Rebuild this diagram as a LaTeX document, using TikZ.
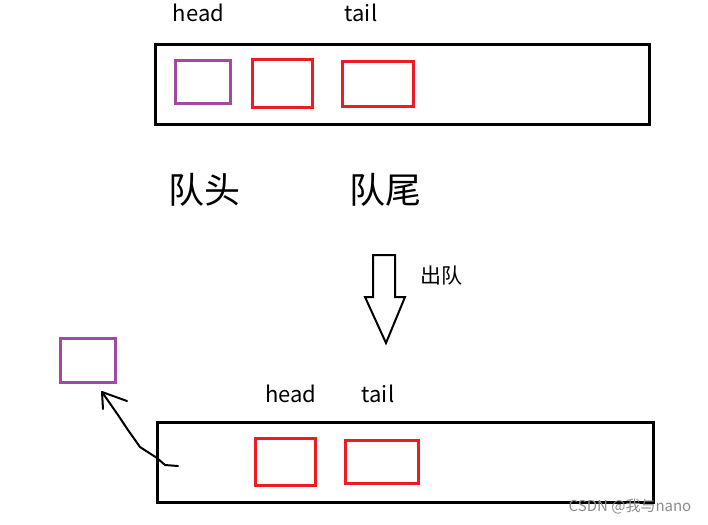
\documentclass[tikz,border=0pt]{standalone}
\usepackage{fontspec}
\setmainfont{Noto Sans CJK SC}
\definecolor{pur}{RGB}{163,73,164}
\definecolor{rd}{RGB}{237,28,36}
\begin{document}
\begin{tikzpicture}[x=1pt,y=-1pt,
  outerbox/.style={draw=black,line width=3pt,inner sep=0pt},
  purbox/.style={draw=pur,line width=3pt,inner sep=0pt},
  redbox/.style={draw=rd,line width=3pt,inner sep=0pt},
  lbl/.style={font=\fontsize{22}{26}\selectfont,inner sep=0pt,anchor=base},
  big/.style={font=\fontsize{36}{40}\selectfont,inner sep=0pt},
  mid/.style={font=\fontsize{21}{24}\selectfont,inner sep=0pt}]
\useasboundingbox (0,0) rectangle (708,524);
% top queue
\node[outerbox,minimum width=494pt,minimum height=79pt] (top) at (402,84.5) {};
\node[purbox,minimum width=55pt,minimum height=42pt] (p1) at (202.5,82) {};
\node[redbox,minimum width=60pt,minimum height=47pt] (r1) at (282,83.5) {};
\node[redbox,minimum width=71pt,minimum height=44pt] (r2) at (377.5,84) {};
\node[lbl] (h1) at (198.5,22) {head};
\node[lbl] (t1) at (361,22) {tail};
\node[big] (qh) at (204,190) {队头};
\node[big] (qt) at (385,190) {队尾};
% block arrow
\draw[line width=2pt,line join=miter] (373,255) -- (395,255) -- (395,297) -- (405,297) -- (386,343) -- (365,297) -- (373,297) -- cycle;
\node[mid] (deq) at (441,276) {出队};
% bottom queue
\node[outerbox,minimum width=496pt,minimum height=80pt] (bot) at (405,462) {};
\node[redbox,minimum width=60pt,minimum height=47pt] (r3) at (285,461.5) {};
\node[redbox,minimum width=73pt,minimum height=43pt] (r4) at (381.5,461.5) {};
\node[lbl] (h2) at (291,402) {head};
\node[lbl] (t2) at (378,402) {tail};
% removed element
\node[purbox,minimum width=55pt,minimum height=44pt] (p2) at (87.5,360) {};
\coordinate (s) at (178,466);
\coordinate (e) at (102,392);
\draw[line width=2pt,line cap=round,line join=round] (s) -- (165,465) -- (157,458) -- (140,447) -- (128,430) -- (118,415) -- (e);
\draw[line width=2pt,line cap=round,line join=round] (127,401) -- (e) -- (103,409);
% watermark
\node[font=\fontsize{15}{17}\selectfont,text=black!45,inner sep=0pt] (wm) at (630,507) {CSDN @我与nano};
\end{tikzpicture}
\end{document}
